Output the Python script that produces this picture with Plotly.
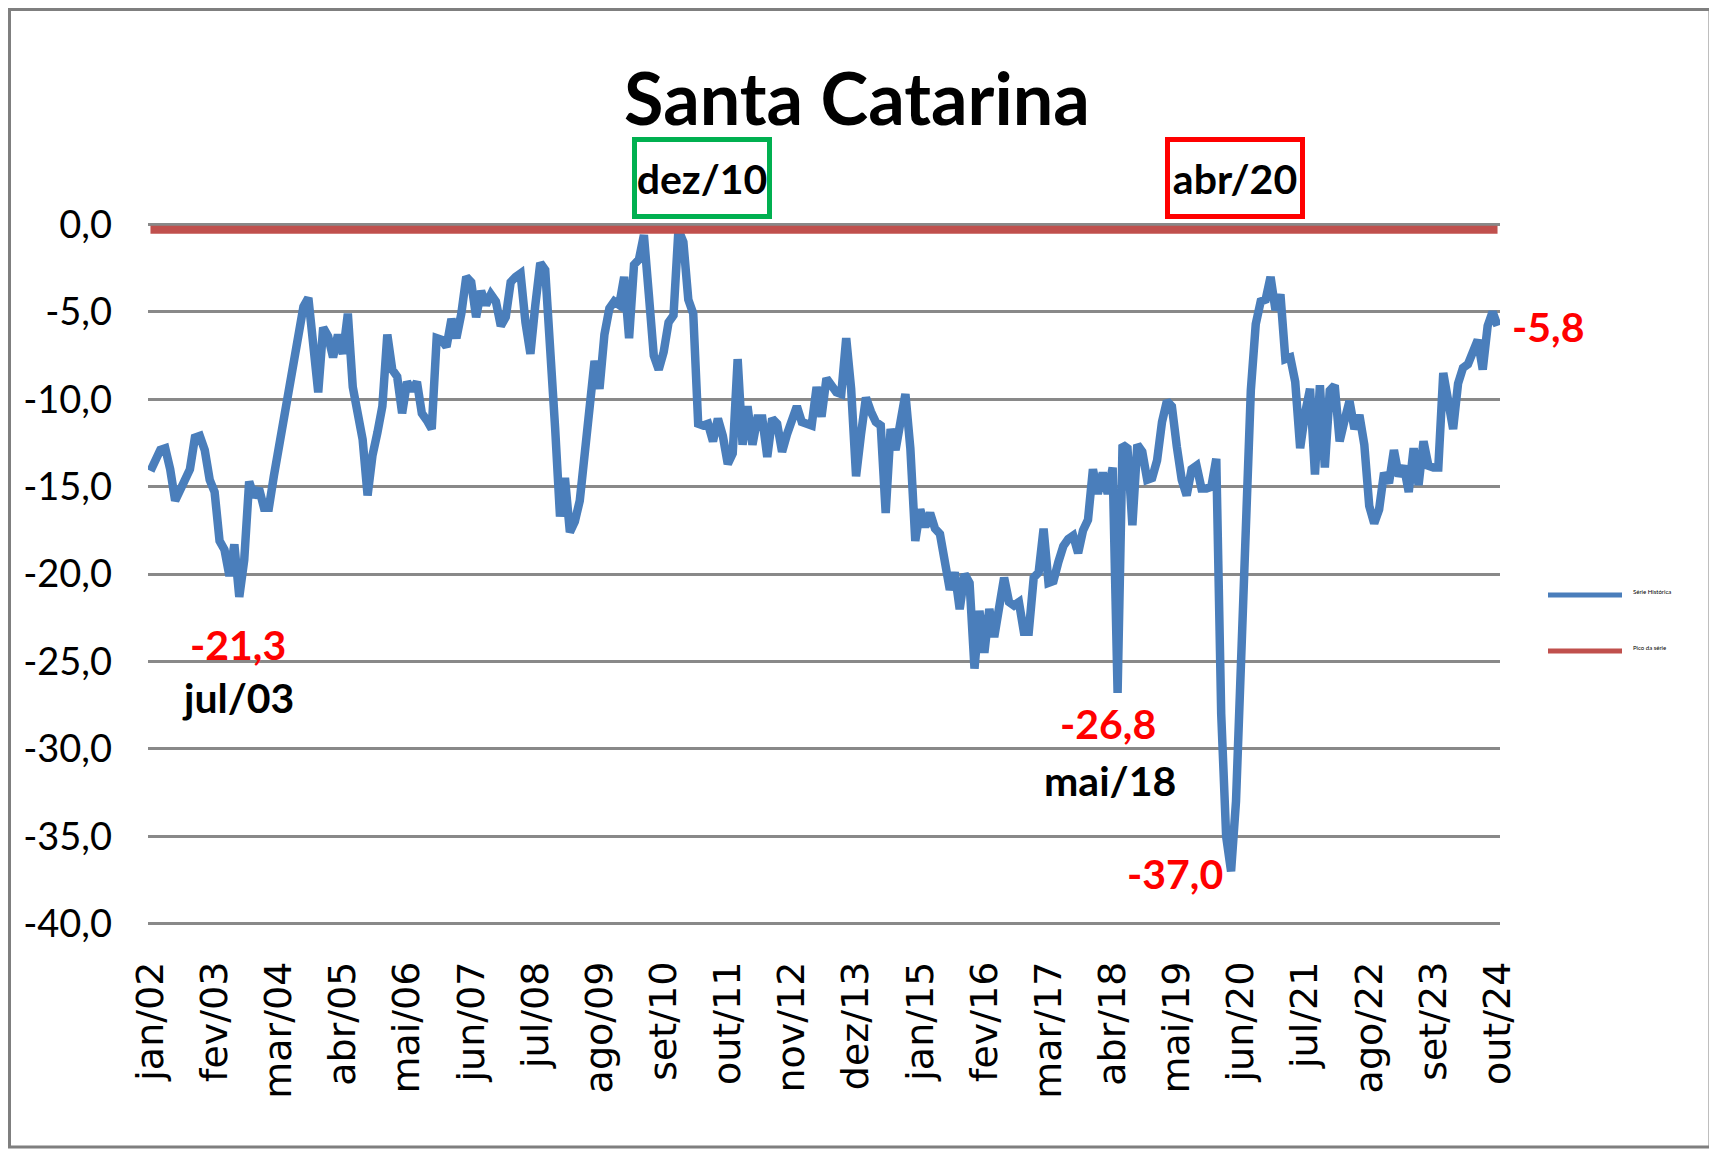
import plotly.graph_objects as go

# ---------------- data ----------------
meses = ["jan", "fev", "mar", "abr", "mai", "jun", "jul", "ago", "set", "out", "nov", "dez"]
anos = list(range(2002, 2025))
categorias = [f"{m}/{str(a)[2:]}" for a in anos for m in meses][:274]  # jan/02 .. out/24

serie_historica = [
    -14.1, -13.6, -12.9, -12.8, -14.0, -15.8, -15.2, -14.7, -14.0, -12.2,
    -12.1, -12.9, -14.6, -15.3, -18.1, -18.6, -20.1, -18.3, -21.3, -19.2,
    -14.7, -15.6, -15.1, -16.2, -16.2, -14.4, -12.7, -10.9, -9.2, -7.5,
    -6.0, -4.7, -4.2, -6.7, -9.6, -5.9, -6.4, -7.6, -6.3, -7.4,
    -5.1, -9.3, -11.2, -12.3, -15.5, -13.2, -11.9, -10.4, -6.3, -8.3,
    -8.7, -10.8, -9.0, -9.5, -9.0, -10.8, -11.2, -11.7, -6.5, -6.6,
    -7.0, -5.4, -6.5, -5.1, -3.0, -3.3, -5.3, -3.8, -4.6, -4.0,
    -4.4, -5.8, -5.3, -3.3, -3.0, -2.8, -5.6, -7.4, -4.6, -2.2,
    -2.6, -6.5, -11.6, -16.7, -14.5, -17.6, -17.0, -15.8, -12.8, -10.7,
    -7.8, -9.4, -6.3, -4.8, -4.4, -4.6, -3.0, -6.5, -2.3, -2.0,
    -0.6, -4.0, -7.5, -8.3, -7.3, -5.6, -5.2, -0.3, -1.0, -4.3,
    -5.1, -11.4, -11.5, -11.4, -12.4, -11.1, -12.1, -13.7, -13.1, -7.7,
    -12.6, -10.4, -12.6, -11.1, -11.1, -13.3, -11.1, -11.4, -13.0, -12.0,
    -11.1, -10.4, -11.3, -11.4, -11.5, -9.3, -11.0, -8.8, -9.2, -9.6,
    -9.7, -6.5, -9.4, -14.4, -12.0, -9.9, -10.7, -11.3, -11.5, -16.5,
    -11.7, -12.9, -11.3, -9.7, -12.8, -18.1, -16.3, -17.3, -16.5, -17.4,
    -17.7, -19.3, -20.9, -19.9, -22.0, -20.0, -20.5, -25.4, -22.1, -24.5,
    -22.0, -23.6, -22.0, -20.2, -21.6, -21.8, -21.6, -23.3, -23.3, -20.2,
    -19.9, -17.4, -20.5, -20.4, -19.3, -18.4, -18.0, -17.8, -18.8, -17.5,
    -16.9, -14.0, -15.4, -14.2, -15.4, -13.9, -26.8, -12.6, -12.8, -17.2,
    -12.6, -13.0, -14.6, -14.5, -13.5, -11.3, -10.1, -10.4, -12.7, -14.6,
    -15.5, -14.0, -13.8, -15.1, -15.1, -15.0, -13.4, -28.0, -35.0, -37.0,
    -33.0, -24.5, -14.5, -9.5, -5.7, -4.4, -4.3, -3.0, -4.9, -4.0,
    -7.7, -7.6, -9.0, -12.8, -10.8, -9.4, -14.3, -9.2, -13.9, -9.5,
    -9.2, -12.4, -11.2, -10.1, -11.7, -10.9, -12.6, -16.1, -17.1, -16.3,
    -14.2, -14.8, -12.9, -14.4, -13.8, -15.3, -12.8, -14.9, -12.4, -13.8,
    -13.9, -13.9, -8.5, -10.2, -11.7, -9.1, -8.2, -8.0, -7.4, -6.6,
    -8.3, -5.8, -5.0, -5.8,
]
pico_da_serie = [max(serie_historica)] * len(serie_historica)

x_tick_idx = list(range(0, 274, 13))
x_tick_labels = [categorias[i] for i in x_tick_idx]
y_tick_vals = [0, -5, -10, -15, -20, -25, -30, -35, -40]
y_tick_labels = ["0,0", "-5,0", "-10,0", "-15,0", "-20,0", "-25,0", "-30,0", "-35,0", "-40,0"]
nomes_series = ["Série Histórica", "Pico da série"]

# ---------------- layout geometry ----------------
OFF = 8  # the page body margin shifts the figure by 8 px
W, H = 1717 - OFF, 1151 - OFF
ML, MR, MT, MB = 140, 217, 206, 222
X_RANGE = [-0.5, 273.5]
Y_RANGE = [-40.3, 0.6]
PW, PH = W - ML - MR, H - MT - MB


def px(X):
    return (X - OFF - ML) / PW


def py(Y):
    return (H - MB - (Y - OFF)) / PH


def fmt(v):
    return f"{v:.1f}".replace(".", ",")


FONT = "Lato, Roboto, Liberation Sans, sans-serif"
BLUE = "#4A7EBB"
RED_LINE = "#C0504D"

fig = go.Figure()
fig.add_trace(go.Scatter(
    x=categorias, y=serie_historica, mode="lines", name=nomes_series[0],
    line=dict(color=BLUE, width=8.5), showlegend=False,
))
fig.add_trace(go.Scatter(
    x=categorias, y=pico_da_serie, mode="lines", name=nomes_series[1],
    line=dict(color=RED_LINE, width=8), showlegend=False,
))

i_min03 = serie_historica.index(min(serie_historica[:40]))
i_min18 = 196
i_min20 = serie_historica.index(min(serie_historica))
i_max = serie_historica.index(max(serie_historica))

annots = [
    (238, 644, fmt(serie_historica[i_min03]), "#FF0000"),
    (238, 697, categorias[i_min03], "#000000"),
    (1108, 723, fmt(serie_historica[i_min18]), "#FF0000"),
    (1110, 780, categorias[i_min18], "#000000"),
    (1175, 873, fmt(serie_historica[i_min20]), "#FF0000"),
    (1548, 326, fmt(serie_historica[-1]), "#FF0000"),
]
for X, Y, txt, col in annots:
    fig.add_annotation(
        x=px(X), y=py(Y), xref="paper", yref="paper", text=f"<b>{txt}</b>",
        showarrow=False, font=dict(family=FONT, size=41, color=col),
        xanchor="center", yanchor="middle",
    )

for idx, X, col in [(i_max, 702, "#00B050"), (i_min20, 1235, "#FF0000")]:
    fig.add_annotation(
        x=px(X), y=py(178), xref="paper", yref="paper", text=f"<b>{categorias[idx]}</b>",
        showarrow=False, font=dict(family=FONT, size=41, color="#000000"),
        bordercolor=col, borderwidth=5, borderpad=0, width=130, height=72,
        bgcolor="white", xanchor="center", yanchor="middle",
    )

# legend (Excel-style long line samples)
for nome, cor, Y in [(nomes_series[0], BLUE, 595), (nomes_series[1], RED_LINE, 651)]:
    fig.add_shape(type="line", xref="paper", yref="paper",
                  x0=px(1548), x1=px(1622), y0=py(Y), y1=py(Y),
                  line=dict(color=cor, width=5))
    fig.add_annotation(x=px(1631), y=py(Y - 4), xref="paper", yref="paper", text=nome,
                       showarrow=False, xanchor="left", yanchor="middle",
                       font=dict(family=FONT, size=6, color="#000000"))

# outer frame
fig.add_shape(type="rect", xref="paper", yref="paper",
              x0=px(9.5), x1=px(1710), y0=py(1147), y1=py(9.5),
              line=dict(color="#7F7F7F", width=3), fillcolor="rgba(0,0,0,0)", layer="below")

fig.update_layout(
    width=W, height=H,
    margin=dict(l=ML, r=MR, t=MT, b=MB, pad=0),
    paper_bgcolor="white", plot_bgcolor="white",
    title=dict(text="<b>Santa Catarina</b>", x=(857 - OFF) / W, y=1 - (100 - OFF) / H,
               xref="container", yref="container", xanchor="center", yanchor="middle",
               font=dict(family=FONT, size=72, color="#000000")),
    xaxis=dict(
        range=X_RANGE, tickmode="array", tickvals=[categorias[i] for i in x_tick_idx],
        ticktext=x_tick_labels, tickangle=-90, showgrid=False, zeroline=False,
        showline=False, ticks="", ticklabelstandoff=24,
        tickfont=dict(family="DejaVu Sans, sans-serif", size=38, color="#000000"),
    ),
    yaxis=dict(
        range=Y_RANGE, tickmode="array", tickvals=y_tick_vals, ticktext=y_tick_labels,
        showgrid=True, gridcolor="#898989", gridwidth=3, zeroline=False, showline=False,
        ticks="", ticklabelstandoff=35,
        tickfont=dict(family=FONT, size=38, color="#000000"),
    ),
    showlegend=False,
)

fig.write_html("out.html")
